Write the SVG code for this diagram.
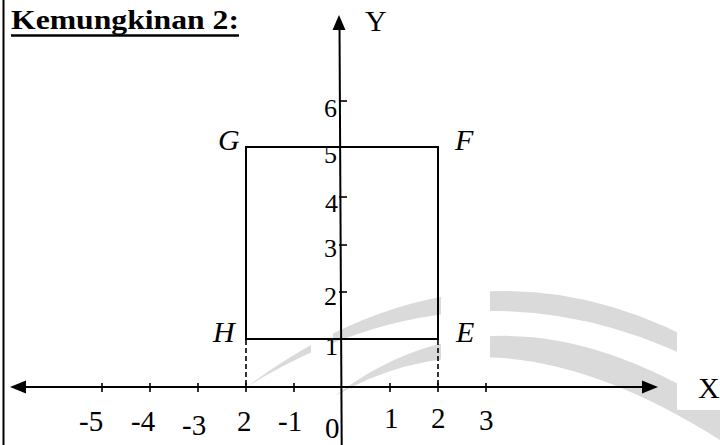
<svg xmlns="http://www.w3.org/2000/svg" width="720" height="445" viewBox="0 0 720 445">
<defs>
<style>
.ax{stroke:#000;stroke-width:2;fill:none}
.tk{stroke:#000;stroke-width:1.6}
.dash{stroke:#000;stroke-width:1.6;stroke-dasharray:5,3}
.sq{stroke:#000;stroke-width:2;fill:none}
text{font-family:'Liberation Serif','Times New Roman',Times,serif;fill:#000}
.num{font-size:29px}
.ynum{font-size:26px}
.pt{font-size:30px;font-style:italic}
.axl{font-size:30px}
.wm{fill:#dadada}
</style>
</defs>
<rect x="0" y="0" width="720" height="445" fill="#fff"/>
<g id="watermark">
<path class="wm" d="M245,388 Q480,212 720,355 L720,373 Q480,242 245,388 Z"/>
<path class="wm" d="M335,396 Q500,270 720,408 L720,440 Q500,300 335,396 Z"/>
<rect x="311" y="315" width="22" height="40" fill="#fff"/>
<rect x="441" y="270" width="49" height="114" fill="#fff"/>
<rect x="677" y="330" width="43" height="80" fill="#fff"/>
</g>
<line x1="3.5" y1="0" x2="3.5" y2="445" stroke="#000" stroke-width="2"/>
<g id="title">
<text x="11" y="29" font-family="Liberation Serif, serif" font-size="27" font-weight="bold" textLength="228" lengthAdjust="spacingAndGlyphs">Kemungkinan 2:</text>
<line x1="11" y1="35.5" x2="239" y2="35.5" stroke="#000" stroke-width="2.5"/>
</g>
<g id="connectors">
<line class="ax" x1="24" y1="387" x2="644" y2="387"/>
<polygon points="10,387 26,380.5 26,393.5" fill="#000"/>
<polygon points="658,387 642,380.5 642,393.5" fill="#000"/>
<line class="ax" x1="339.5" y1="26" x2="341.7" y2="445"/>
<polygon points="339,15 332.5,30 345.5,30" fill="#000"/>
<g id="x-ticks">
<line class="tk" x1="102" y1="383" x2="102" y2="392"/>
<line class="tk" x1="150" y1="383" x2="150" y2="392"/>
<line class="tk" x1="198" y1="383" x2="198" y2="392"/>
<line class="tk" x1="246" y1="383" x2="246" y2="392"/>
<line class="tk" x1="294" y1="383" x2="294" y2="392"/>
<line class="tk" x1="390" y1="383" x2="390" y2="392"/>
<line class="tk" x1="438" y1="383" x2="438" y2="392"/>
<line class="tk" x1="486" y1="383" x2="486" y2="392"/>
</g>
<g id="y-ticks">
<line class="tk" x1="339" y1="101" x2="347" y2="101"/>
<line class="tk" x1="336" y1="147" x2="345" y2="147" stroke-width="3"/>
<line class="tk" x1="339" y1="197" x2="347" y2="197"/>
<line class="tk" x1="339" y1="245" x2="347" y2="245"/>
<line class="tk" x1="339" y1="292" x2="347" y2="292"/>
<line class="tk" x1="335" y1="339" x2="348" y2="339" stroke-width="2.5"/>
</g>
<line class="dash" x1="246" y1="340" x2="246" y2="387"/>
<line class="dash" x1="438" y1="340" x2="438" y2="387"/>
</g>
<g id="square-EFGH">
<rect class="sq" x="246" y="147" width="192" height="192"/>
</g>
<g id="point-G"><text class="pt" x="218" y="150" font-family="Liberation Serif, serif">G</text></g>
<g id="point-F"><text class="pt" x="455" y="150" font-family="Liberation Serif, serif">F</text></g>
<g id="point-H"><text class="pt" x="213" y="342" font-family="Liberation Serif, serif">H</text></g>
<g id="point-E"><text class="pt" x="456" y="342" font-family="Liberation Serif, serif">E</text></g>
<g id="axis-labels" font-family="Liberation Serif, serif">
<text class="axl" x="365" y="31">Y</text>
<text class="axl" x="698" y="398">X</text>
</g>
<g id="y-numbers" text-anchor="end" font-family="Liberation Serif, serif">
<text class="ynum" x="337" y="117">6</text>
<text class="ynum" x="337" y="163">5</text>
<text class="ynum" x="338" y="212">4</text>
<text class="ynum" x="337" y="257">3</text>
<text class="ynum" x="337" y="305">2</text>
<text class="ynum" x="338" y="355">1</text>
</g>
<g id="x-numbers" font-family="Liberation Serif, serif">
<text class="num" x="79" y="431">-5</text>
<text class="num" x="131" y="431">-4</text>
<text class="num" x="182" y="435">-3</text>
<text class="num" x="237" y="431">2</text>
<text class="num" x="278" y="431">-1</text>
<text class="num" x="325" y="438">0</text>
<text class="num" x="384" y="428">1</text>
<text class="num" x="431" y="428">2</text>
<text class="num" x="479" y="430">3</text>
</g>
</svg>
